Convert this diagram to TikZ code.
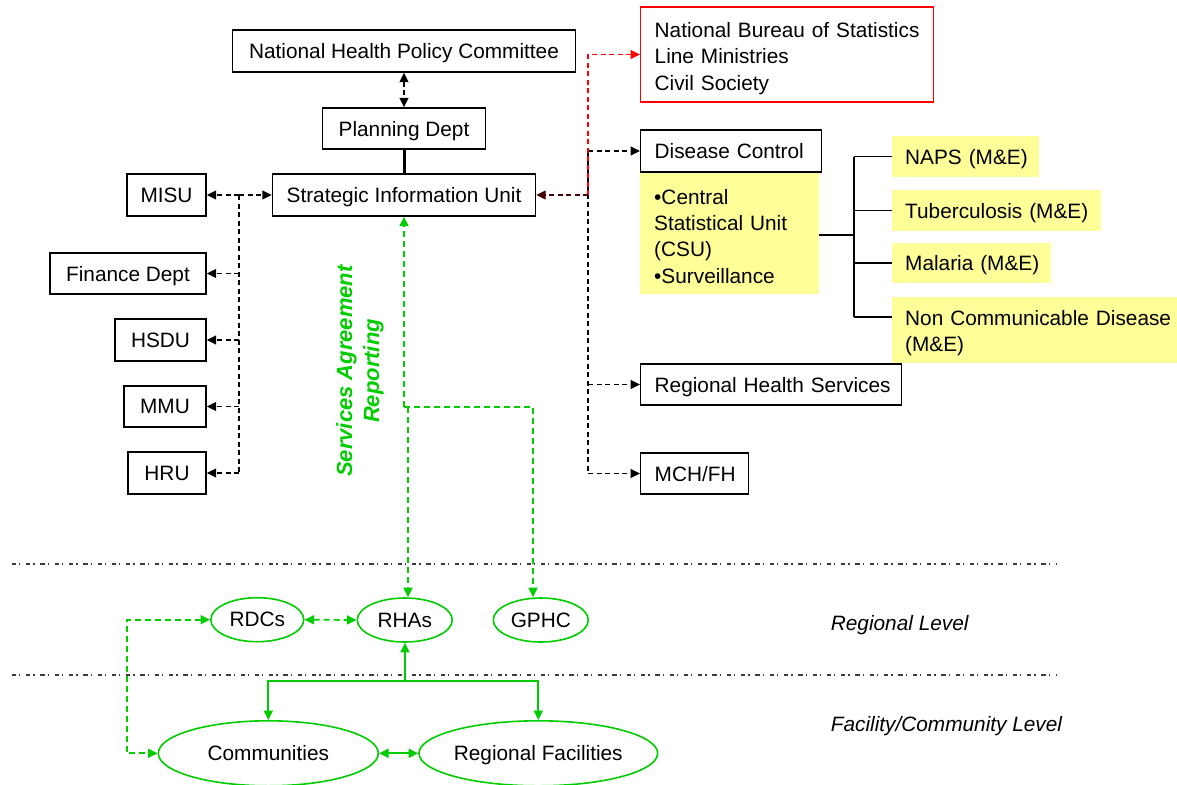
\documentclass[tikz,border=0pt]{standalone}
\usepackage{fontspec}
\setmainfont{Liberation Sans}
\usetikzlibrary{arrows.meta,shapes.geometric}
\definecolor{ygreen}{RGB}{0,204,0}
\definecolor{paleyellow}{RGB}{255,255,153}
\definecolor{dkred}{RGB}{70,0,0}
\definecolor{levelgray}{RGB}{60,60,60}
% taller first line, used to lower a multi-line block inside its box
\newcommand{\firstline}[1]{\rule{0pt}{#1}}
\begin{document}
\begin{tikzpicture}[x=1pt,y=-1pt,
  >={Triangle[length=9.5pt,width=9pt]},
  every node/.style={font=\fontsize{20.8}{26.3}\selectfont, inner sep=0pt},
  single/.style={text depth=0pt},
  box/.style={draw, line width=1.4pt, align=center, single},
  lbox/.style={draw, line width=1.4pt, inner xsep=14pt, align=left, anchor=west},
  yel/.style={fill=paleyellow, inner xsep=14pt, align=left, anchor=west},
  ryel/.style={fill=paleyellow, inner xsep=13pt, align=left, anchor=west},
  ell/.style={ellipse, draw=ygreen, line width=1.6pt, single},
  blkdash/.style={draw=black, line width=1.4pt, dash pattern=on 5pt off 3.5pt},
  reddash/.style={draw=red, line width=1.4pt, dash pattern=on 5pt off 3.5pt},
  gdash/.style={draw=ygreen, line width=1.7pt, dash pattern=on 6pt off 4pt},
  gsolid/.style={draw=ygreen, line width=1.8pt},
  treeline/.style={draw=black, line width=1.4pt},
  levelline/.style={draw=levelgray, line width=1.3pt, dash pattern=on 4.3pt off 3pt on 1.3pt off 5.7pt},
  levellabel/.style={anchor=west, single, font=\fontsize{20.8}{26.3}\selectfont\itshape}
]
\useasboundingbox (0,0) rectangle (1177,784);

% central column
\node[box, minimum width=343pt, minimum height=42pt] (nhpc) at (404,51) {National Health Policy Committee};
\node[box, minimum width=163pt, minimum height=41pt] (plan) at (404,128.5) {Planning Dept};
\node[box, minimum width=263pt, minimum height=42pt] (siu) at (404,195) {Strategic Information Unit};

% left units
\node[box, minimum width=79pt, minimum height=42pt] (misu) at (166.5,195) {MISU};
\node[box, minimum width=156pt, minimum height=41pt] (fin) at (128,273.5) {Finance Dept};
\node[box, minimum width=91pt, minimum height=42pt] (hsdu) at (160.5,340) {HSDU};
\node[box, minimum width=82pt, minimum height=41pt] (mmu) at (165,406.5) {MMU};
\node[box, minimum width=78pt, minimum height=42pt] (hru) at (167,473) {HRU};

% right units
\node[lbox, draw=red, text width=265pt, minimum height=95pt] (nbs) at (640,54.5)
  {\firstline{23pt}\mbox{National Bureau of Statistics}\\\mbox{Line Ministries}\\\mbox{Civil Society}};
\node[yel, text width=151pt, minimum height=122pt] (csu) at (640,233)
  {\firstline{21.5pt}\mbox{•Central}\\\mbox{Statistical Unit}\\\mbox{(CSU)}\\\mbox{•Surveillance}};
\node[lbox, single, fill=white, text width=153pt, minimum height=42pt] (dc) at (640,151) {\mbox{Disease Control}};
\node[lbox, single, text width=233pt, minimum height=41pt] (rhs) at (640,384.5) {\mbox{Regional Health Services}};
\node[lbox, single, text width=80pt, minimum height=41pt] (mch) at (640,473.5) {\mbox{MCH/FH}};

% disease programmes
\node[ryel, single, text width=121pt, minimum height=41pt] (naps) at (892,156.5) {\mbox{NAPS (M\&E)}};
\node[ryel, single, text width=183pt, minimum height=41pt] (tb) at (892,210.5) {\mbox{Tuberculosis (M\&E)}};
\node[ryel, single, text width=133pt, minimum height=40pt] (mal) at (892,263) {\mbox{Malaria (M\&E)}};
\node[ryel, text width=266pt, minimum height=66pt] (ncd) at (892,330)
  {\firstline{21.5pt}\mbox{Non Communicable Disease}\\\mbox{(M\&E)}};

% regional and facility level
\node[ell, minimum width=93pt, minimum height=44pt] (rdc) at (257.3,619.7) {RDCs};
\node[ell, minimum width=95pt, minimum height=44pt] (rha) at (404.8,620) {RHAs};
\node[ell, minimum width=95pt, minimum height=44pt] (gphc) at (540.8,620) {GPHC};
\node[ell, minimum width=220pt, minimum height=65pt] (comm) at (268.3,753.3) {Communities};
\node[ell, minimum width=220pt, minimum height=65pt] (rf) at (538.3,753.3) {Regional Facilities};

\node[levellabel] (lvr) at (830.7,623) {Regional Level};
\node[levellabel] (lvf) at (830.7,724) {Facility/Community Level};

\node[rotate=90, text=ygreen, align=center, font=\fontsize{22}{27}\selectfont\bfseries\itshape] (sar)
  at (360,371) {Services Agreement\\Reporting};

% level separators
\coordinate (d1l) at (11.7,564); \coordinate (d1r) at (1057,564);
\coordinate (d2l) at (11.7,675); \coordinate (d2r) at (1057,675);
\draw[levelline] (d1l) -- (d1r);
\draw[levelline] (d2l) -- (d2r);

% top links
\draw[blkdash,<->] (nhpc.south) -- (plan.north);
\draw[line width=3pt] (plan.south) -- (siu.north);

% left bus
\coordinate (lb) at (239,195);
\coordinate (lbe) at (239,473);
\draw[blkdash] (lb) -- (lbe);
\draw[blkdash,->] (lb) -- (siu.west);
\foreach \n in {misu,fin,hsdu,mmu,hru}
  \draw[blkdash,->] (lb |- \n.east) -- (\n.east);

% right bus
\coordinate (rb) at (588,195);
\draw[blkdash] (rb |- dc.west) -- (rb |- mch.west);
\draw[blkdash,->] (rb |- dc.west) -- (dc.west);
\draw[blkdash,->] (rb |- rhs.west) -- (rhs.west);
\draw[blkdash,->] (rb |- mch.west) -- (mch.west);
\draw[reddash,->] (rb) -- (rb |- nbs.west) -- (nbs.west);
\draw[blkdash,draw=dkred,->] (rb) -- (siu.east);

% disease programme tree
\coordinate (tj) at (854,235);
\coordinate (ncdj) at (854,317);
\draw[treeline] (csu.east |- tj) -- (tj);
\draw[treeline] (tj |- naps.west) -- (ncdj);
\draw[treeline] (tj |- naps.west) -- (naps.west);
\draw[treeline] (tj |- tb.west) -- (tb.west);
\draw[treeline] (tj |- mal.west) -- (mal.west);
\draw[treeline] (ncdj) -- (ncdj -| ncd.west);

% reporting links
\coordinate (gj) at (404,407);
\coordinate (gj2) at (408,407);
\coordinate (gr) at (533,407);
\draw[gdash,->] (gj) -- (siu.south);
\draw[gdash,->] (gj) -- (gr) -- (gr |- gphc.north);
\draw[gdash,->] (gj2) -- (gj2 |- rha.north);
\draw[gdash,<->] (rdc.east) -- (rha.west);
\coordinate (gl) at (127,619.7);
\draw[gdash,<->] (rdc.west) -- (gl) -- (gl |- comm.west) -- (comm.west);

% facility links
\coordinate (sj) at (405,681);
\draw[gsolid,->] (sj) -- (sj |- rha.south);
\draw[gsolid,->] (sj) -- (sj -| comm.north) -- (comm.north);
\draw[gsolid,->] (sj) -- (sj -| rf.north) -- (rf.north);
\draw[gsolid,<->] (comm.east) -- (rf.west);
\end{tikzpicture}
\end{document}
